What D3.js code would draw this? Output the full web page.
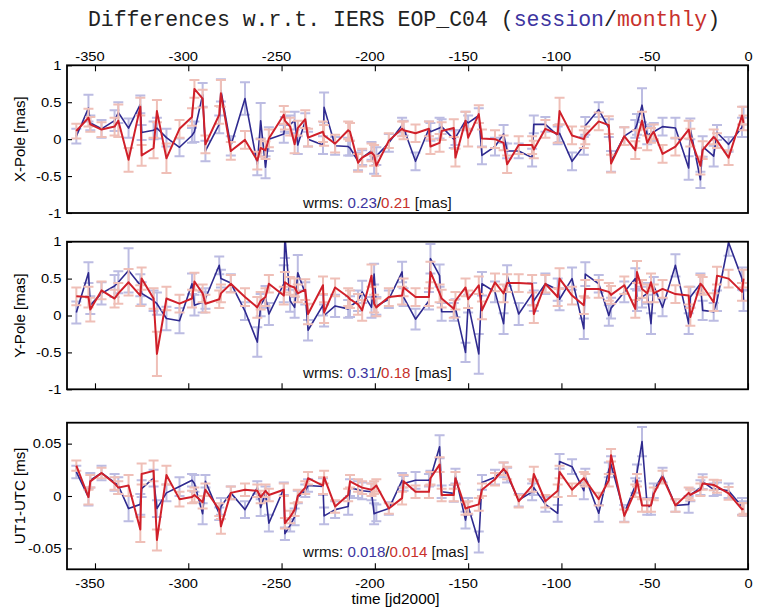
<!DOCTYPE html>
<html>
<head>
<meta charset="utf-8">
<script src="https://cdn.jsdelivr.net/npm/d3@7"></script>
<style>
  html, body { margin: 0; padding: 0; background: #ffffff; }
  svg { display: block; }
</style>
</head>
<body>
<svg id="chart" width="758" height="607"></svg>
<script>
// Session epochs, days relative to J2000
const epochs = [
  -360, -353.5, -352.5, -346.5, -339.5, -337.5, -332, -325.7, -325, -318.6,
  -316.8, -311.7, -304.7, -298, -296.7, -292.3, -290.8, -283.4, -282.5, -277.2,
  -269.6, -263, -261.2, -258.6, -256.8, -248.8, -248.2, -245.4, -243, -241.3,
  -237.3, -235.8, -227.8, -227.2, -221.3, -214.3, -213.3, -209, -206.8, -201.8,
  -200.4, -199.2, -192.5, -185.4, -184.6, -178.2, -171, -170.2, -165.3, -164.2,
  -157.7, -156.8, -151.4, -150, -144.3, -142.6, -135.6, -131, -129.1, -122.9,
  -115.7, -114.8, -108.6, -102, -101, -94.3, -88, -87.2, -80, -74.6,
  -73.4, -66.3, -60.4, -59.5, -56.8, -54, -52, -50.5, -45.8, -38.9,
  -31.8, -30.9, -25.5, -24.3, -18.4, -16.6, -10.4, -3.2, -2.4
];

// X-Pole differences [mas]
const xpoleSession = [
  0.04, 0.42, 0.22, 0.14, 0.25, 0.36, 0.15, 0.47, 0.09, 0.12,
  0.15, 0.02, -0.11, 0.05, 0.10, 0.60, -0.16, 0.20, 0.66, -0.09,
  0.55, -0.34, 0.25, -0.38, 0.00, 0.07, 0.20, 0.20, 0.25, -0.08,
  0.25, 0.00, -0.08, 0.43, -0.09, -0.10, -0.12, -0.30, -0.25, -0.16,
  -0.35, -0.23, -0.05, 0.19, 0.15, -0.30, 0.14, 0.10, 0.15, 0.17,
  0.00, 0.02, 0.25, 0.22, 0.32, -0.22, -0.10, 0.07, -0.16, -0.16,
  -0.25, 0.20, 0.20, 0.05, 0.08, -0.30, -0.09, 0.18, 0.40, 0.15,
  -0.30, 0.04, 0.14, 0.20, 0.46, 0.05, 0.08, 0.10, 0.17, 0.15,
  -0.39, 0.14, -0.55, -0.10, -0.23, 0.09, -0.07, 0.16, 0.32
];
const xpoleMonthly = [
  0.11, 0.29, 0.20, 0.13, 0.17, 0.25, -0.28, 0.44, -0.22, -0.12,
  0.38, -0.26, 0.14, 0.30, 0.68, 0.55, -0.07, 0.33, 0.62, -0.16,
  -0.01, -0.29, -0.12, -0.15, 0.01, 0.33, 0.25, 0.17, -0.07, 0.15,
  0.27, 0.02, 0.10, 0.05, -0.06, 0.12, 0.10, -0.32, -0.25, -0.18,
  -0.22, -0.36, -0.02, 0.14, 0.12, 0.08, 0.14, -0.10, -0.05, 0.11,
  0.15, -0.25, 0.25, 0.02, 0.34, 0.01, 0.00, -0.05, -0.34, -0.08,
  -0.08, -0.14, 0.14, 0.07, 0.38, 0.05, 0.00, 0.05, 0.24, 0.19,
  -0.33, 0.04, -0.15, 0.00, 0.25, -0.05, 0.05, 0.10, -0.20, -0.10,
  0.13, 0.02, -0.36, -0.15, 0.03, -0.02, -0.25, 0.32, 0.22
];
const xpoleSessionErr = [
  0.10, 0.18, 0.10, 0.12, 0.14, 0.14, 0.13, 0.12, 0.10, 0.12,
  0.14, 0.12, 0.12, 0.10, 0.14, 0.16, 0.14, 0.12, 0.15, 0.13,
  0.22, 0.15, 0.24, 0.15, 0.16, 0.12, 0.10, 0.12, 0.12, 0.12,
  0.10, 0.10, 0.12, 0.20, 0.12, 0.12, 0.10, 0.12, 0.10, 0.12,
  0.12, 0.12, 0.12, 0.10, 0.10, 0.12, 0.10, 0.12, 0.14, 0.10,
  0.12, 0.10, 0.12, 0.10, 0.10, 0.12, 0.12, 0.12, 0.10, 0.10,
  0.12, 0.12, 0.10, 0.12, 0.12, 0.12, 0.12, 0.12, 0.10, 0.12,
  0.14, 0.12, 0.12, 0.14, 0.23, 0.12, 0.12, 0.12, 0.12, 0.14,
  0.16, 0.14, 0.11, 0.14, 0.14, 0.10, 0.10, 0.13, 0.12
];
const xpoleMonthlyErr = [
  0.10, 0.12, 0.10, 0.10, 0.12, 0.22, 0.16, 0.12, 0.14, 0.14,
  0.15, 0.20, 0.12, 0.12, 0.12, 0.12, 0.12, 0.12, 0.18, 0.12,
  0.12, 0.12, 0.12, 0.12, 0.12, 0.12, 0.12, 0.12, 0.12, 0.10,
  0.12, 0.12, 0.14, 0.14, 0.12, 0.12, 0.12, 0.12, 0.12, 0.12,
  0.14, 0.14, 0.10, 0.10, 0.12, 0.12, 0.10, 0.10, 0.12, 0.12,
  0.12, 0.12, 0.12, 0.12, 0.12, 0.12, 0.12, 0.10, 0.12, 0.12,
  0.12, 0.12, 0.12, 0.12, 0.18, 0.12, 0.12, 0.12, 0.12, 0.12,
  0.12, 0.12, 0.12, 0.12, 0.12, 0.10, 0.10, 0.10, 0.12, 0.12,
  0.12, 0.12, 0.12, 0.12, 0.10, 0.10, 0.10, 0.12, 0.10
];

// Y-Pole differences [mas]
const ypoleSession = [
  0.04, 0.58, 0.14, 0.30, 0.40, 0.45, 0.61, 0.41, 0.30, 0.20,
  0.16, -0.04, -0.07, 0.43, 0.14, 0.18, 0.23, 0.68, 0.50, 0.44,
  0.06, -0.36, 0.14, 0.25, 0.02, 0.43, 1.08, 0.20, 0.11, 0.58,
  0.30, -0.20, 0.14, 0.00, 0.13, 0.09, 0.12, 0.20, 0.32, 0.11,
  0.56, 0.13, 0.22, 0.59, 0.25, -0.05, 0.20, 0.77, 0.54, 0.05,
  0.05, 0.10, -0.50, 0.16, -0.52, 0.43, 0.32, -0.11, 0.54, 0.02,
  0.29, 0.20, 0.43, 0.35, 0.22, 0.50, -0.18, 0.56, 0.43, 0.00,
  0.10, 0.32, 0.50, 0.20, 0.25, 0.30, -0.11, 0.40, 0.11, 0.68,
  -0.11, 0.25, 0.43, 0.07, 0.05, 0.20, 0.99, 0.50, 0.20
];
const ypoleMonthly = [
  0.26, 0.25, 0.08, 0.34, 0.23, 0.30, 0.45, 0.27, 0.50, 0.23,
  -0.52, 0.23, 0.16, 0.23, 0.46, 0.30, 0.16, 0.22, 0.30, 0.43,
  0.25, 0.11, 0.20, 0.25, 0.43, 0.27, 0.45, 0.40, 0.38, 0.30,
  0.35, 0.02, 0.41, 0.04, 0.38, 0.25, 0.22, 0.15, 0.07, 0.54,
  0.16, 0.11, 0.25, 0.27, 0.38, 0.25, 0.25, 0.59, 0.30, 0.23,
  0.09, 0.20, 0.38, 0.22, 0.41, 0.07, 0.45, 0.30, 0.44, 0.44,
  0.43, 0.02, 0.43, 0.25, 0.50, 0.27, 0.14, 0.36, 0.36, 0.32,
  0.28, 0.41, 0.09, 0.59, 0.36, 0.30, 0.45, 0.30, 0.36, 0.29,
  0.27, -0.02, 0.43, 0.40, 0.18, 0.54, 0.50, 0.32, 0.50
];
const ypoleSessionErr = [
  0.15, 0.14, 0.12, 0.15, 0.15, 0.15, 0.30, 0.15, 0.15, 0.14,
  0.15, 0.16, 0.17, 0.14, 0.14, 0.14, 0.14, 0.12, 0.12, 0.12,
  0.12, 0.20, 0.15, 0.15, 0.15, 0.25, 0.30, 0.15, 0.14, 0.24,
  0.15, 0.14, 0.14, 0.15, 0.15, 0.12, 0.14, 0.14, 0.15, 0.14,
  0.14, 0.12, 0.12, 0.14, 0.12, 0.14, 0.12, 0.20, 0.15, 0.12,
  0.12, 0.12, 0.13, 0.12, 0.27, 0.16, 0.14, 0.14, 0.14, 0.15,
  0.15, 0.14, 0.14, 0.15, 0.15, 0.15, 0.14, 0.16, 0.12, 0.14,
  0.14, 0.14, 0.14, 0.14, 0.14, 0.14, 0.14, 0.12, 0.12, 0.15,
  0.14, 0.14, 0.14, 0.13, 0.12, 0.14, 0.18, 0.15, 0.14
];
const ypoleMonthlyErr = [
  0.12, 0.14, 0.16, 0.12, 0.12, 0.14, 0.18, 0.14, 0.15, 0.14,
  0.30, 0.16, 0.12, 0.12, 0.12, 0.12, 0.12, 0.12, 0.12, 0.12,
  0.12, 0.14, 0.12, 0.12, 0.12, 0.12, 0.14, 0.12, 0.12, 0.12,
  0.14, 0.14, 0.12, 0.14, 0.12, 0.12, 0.12, 0.14, 0.14, 0.15,
  0.12, 0.12, 0.12, 0.12, 0.12, 0.12, 0.12, 0.14, 0.12, 0.12,
  0.12, 0.12, 0.12, 0.12, 0.12, 0.12, 0.12, 0.12, 0.12, 0.12,
  0.12, 0.12, 0.12, 0.12, 0.14, 0.12, 0.12, 0.12, 0.12, 0.12,
  0.12, 0.12, 0.12, 0.15, 0.12, 0.12, 0.12, 0.12, 0.12, 0.12,
  0.12, 0.12, 0.12, 0.12, 0.12, 0.12, 0.12, 0.12, 0.12
];

// UT1-UTC differences [ms]
const ut1Session = [
  0.023, -0.001, 0.015, 0.022, 0.013, 0.010, -0.012, -0.008, 0.007, 0.017,
  -0.012, 0.003, 0.009, 0.015, 0.012, -0.017, 0.014, -0.017, -0.010, 0.003,
  -0.013, 0.008, -0.011, 0.003, -0.026, 0.007, -0.036, -0.028, -0.020, -0.001,
  0.005, 0.010, 0.009, -0.019, -0.013, -0.010, 0.008, 0.006, 0.005, 0.004,
  -0.017, -0.016, -0.012, 0.015, 0.012, 0.015, 0.015, 0.017, 0.047, 0.004,
  0.0025, 0.019, -0.023, -0.010, -0.044, 0.013, 0.018, 0.025, 0.020, -0.004,
  0.004, 0.008, -0.008, -0.0165, 0.033, 0.028, 0.005, 0.018, -0.0165, 0.025,
  0.030, -0.0165, 0.010, 0.022, 0.052, -0.010, -0.010, 0.005, 0.020, -0.009,
  -0.008, 0.001, 0.008, 0.0137, 0.006, 0.007, 0.005, -0.010, -0.012
];
const ut1Monthly = [
  0.029, -0.001, 0.014, 0.022, 0.012, 0.008, 0.010, -0.032, 0.021, 0.024,
  -0.042, 0.020, -0.003, -0.001, 0.001, -0.006, 0.006, -0.013, -0.029, 0.003,
  0.006, 0.005, -0.001, 0.005, 0.001, 0.006, -0.026, -0.020, -0.013, 0.000,
  0.008, 0.017, 0.010, 0.018, -0.010, 0.001, 0.014, 0.010, 0.008, 0.006,
  0.008, 0.010, -0.012, -0.002, 0.014, 0.004, 0.004, 0.017, 0.030, 0.001,
  0.001, 0.017, -0.012, -0.011, -0.008, 0.006, 0.016, 0.026, 0.022, -0.005,
  0.010, 0.021, -0.005, 0.005, 0.023, 0.006, 0.017, 0.015, -0.003, 0.015,
  0.039, -0.019, 0.005, 0.015, -0.009, -0.009, -0.009, 0.002, 0.018, -0.009,
  0.003, 0.001, 0.006, 0.012, 0.0105, 0.009, 0.0025, -0.0127, -0.012
];
const ut1SessionErr = [
  0.006, 0.008, 0.007, 0.007, 0.008, 0.008, 0.012, 0.010, 0.008, 0.008,
  0.008, 0.008, 0.009, 0.006, 0.008, 0.010, 0.006, 0.006, 0.008, 0.006,
  0.008, 0.006, 0.008, 0.006, 0.008, 0.006, 0.006, 0.006, 0.008, 0.006,
  0.006, 0.006, 0.008, 0.008, 0.008, 0.008, 0.008, 0.008, 0.008, 0.008,
  0.010, 0.008, 0.006, 0.007, 0.007, 0.008, 0.006, 0.007, 0.011, 0.006,
  0.008, 0.007, 0.008, 0.008, 0.010, 0.007, 0.007, 0.007, 0.007, 0.006,
  0.008, 0.007, 0.007, 0.008, 0.007, 0.007, 0.008, 0.008, 0.008, 0.007,
  0.008, 0.008, 0.007, 0.008, 0.014, 0.008, 0.008, 0.007, 0.007, 0.006,
  0.008, 0.006, 0.007, 0.007, 0.006, 0.006, 0.007, 0.008, 0.007
];
const ut1MonthlyErr = [
  0.005, 0.007, 0.006, 0.005, 0.006, 0.006, 0.010, 0.012, 0.010, 0.010,
  0.010, 0.009, 0.007, 0.006, 0.007, 0.006, 0.006, 0.006, 0.007, 0.006,
  0.006, 0.006, 0.006, 0.006, 0.006, 0.006, 0.005, 0.006, 0.006, 0.006,
  0.006, 0.006, 0.008, 0.006, 0.006, 0.006, 0.006, 0.006, 0.006, 0.006,
  0.006, 0.006, 0.005, 0.006, 0.006, 0.006, 0.006, 0.006, 0.007, 0.006,
  0.006, 0.006, 0.006, 0.006, 0.006, 0.006, 0.006, 0.006, 0.006, 0.006,
  0.006, 0.007, 0.006, 0.006, 0.006, 0.006, 0.006, 0.006, 0.006, 0.006,
  0.006, 0.006, 0.006, 0.006, 0.006, 0.006, 0.006, 0.006, 0.006, 0.006,
  0.005, 0.005, 0.006, 0.006, 0.005, 0.006, 0.006, 0.006, 0.005
];

// Axis ticks and annotations
const timeTicks = [-350, -300, -250, -200, -150, -100, -50, 0];
const poleTicks = [-1, -0.5, 0, 0.5, 1];
const ut1Ticks = [-0.05, 0, 0.05];
const panelLabels = ["X-Pole [mas]", "Y-Pole [mas]", "UT1-UTC [ms]"];
const wrmsSession = ["0.23", "0.31", "0.018"];
const wrmsMonthly = ["0.21", "0.18", "0.014"];

// ---- drawing ----
const SANS = "'Liberation Sans', Arial, Helvetica, sans-serif";
const SX = 1.13; // horizontal stretch of sans-serif labels
const C = {
  session: "#2f2a8f",
  monthly: "#d0202a",
  sessionErr: "#bcbce2",
  monthlyErr: "#efbfb7",
  sessionText: "#3d34a0",
  monthlyText: "#c8312c"
};

const svg = d3.select("#chart");
const x = d3.scaleLinear().domain([-365, 0]).range([67, 748]);

const panels = [
  { top: 65.3, bottom: 213, domain: [-1, 1], ticks: poleTicks,
    session: xpoleSession, monthly: xpoleMonthly,
    sessionErr: xpoleSessionErr, monthlyErr: xpoleMonthlyErr,
    xAxis: "topLabels", wrmsY: 207.5 },
  { top: 241.7, bottom: 389.3, domain: [-1, 1], ticks: poleTicks,
    session: ypoleSession, monthly: ypoleMonthly,
    sessionErr: ypoleSessionErr, monthlyErr: ypoleMonthlyErr,
    xAxis: "bottomTicks", wrmsY: 377.5 },
  { top: 422.7, bottom: 569.3, domain: [-0.07, 0.07], ticks: ut1Ticks,
    session: ut1Session, monthly: ut1Monthly,
    sessionErr: ut1SessionErr, monthlyErr: ut1MonthlyErr,
    xAxis: "bottomLabels", wrmsY: 557 }
];

function styleAxis(g) {
  g.attr("font-family", SANS).attr("font-size", 13);
  g.select(".domain").remove();
  g.selectAll(".tick line").attr("stroke", "#000").attr("stroke-width", 1.1);
  g.selectAll(".tick text").attr("fill", "#000");
}

function errorBars(sel, y, vals, errs, color) {
  const rows = epochs.map((t, k) => ({ t, v: vals[k], e: errs[k] }));
  sel.append("g")
    .attr("stroke", color).attr("stroke-width", 2).attr("fill", "none")
    .selectAll("path").data(rows).join("path")
    .attr("d", o => {
      const px = x(o.t), y1 = y(o.v - o.e), y2 = y(o.v + o.e), w = 5;
      return `M${px},${y1}V${y2}M${px - w},${y1}H${px + w}M${px - w},${y2}H${px + w}`;
    });
}

function seriesLine(sel, y, vals, color, width) {
  const line = d3.line().x((t) => x(t)).y((t, k) => y(vals[k]));
  sel.append("path")
    .attr("d", line(epochs))
    .attr("fill", "none")
    .attr("stroke", color)
    .attr("stroke-width", width)
    .attr("stroke-linejoin", "round");
}

panels.forEach((p, i) => {
  const y = d3.scaleLinear().domain(p.domain).range([p.bottom, p.top]);
  const g = svg.append("g");

  g.append("clipPath").attr("id", "clip" + i)
    .append("rect")
    .attr("x", x.range()[0]).attr("y", p.top)
    .attr("width", x.range()[1] - x.range()[0])
    .attr("height", p.bottom - p.top);

  const plot = g.append("g").attr("clip-path", `url(#clip${i})`);
  errorBars(plot, y, p.session, p.sessionErr, C.sessionErr);
  seriesLine(plot, y, p.session, C.session, 1.6);
  errorBars(plot, y, p.monthly, p.monthlyErr, C.monthlyErr);
  seriesLine(plot, y, p.monthly, C.monthly, 2);

  // y axis (ticks inward)
  g.append("g")
    .attr("transform", `translate(${x.range()[0]},0)`)
    .call(d3.axisLeft(y).tickValues(p.ticks).tickSize(-5).tickPadding(5)
      .tickFormat(d => String(d)))
    .call(styleAxis)
    .call(a => a.selectAll(".tick text").attr("transform", `scale(${SX},1)`));

  // time axis
  if (p.xAxis === "topLabels") {
    g.append("g")
      .attr("transform", `translate(0,${p.top})`)
      .call(d3.axisTop(x).tickValues(timeTicks).tickSize(-6).tickPadding(4.3)
        .tickFormat(d => String(d)))
      .call(styleAxis)
      .call(a => a.selectAll(".tick text")
        .attr("x", d => d < 0 ? -5.5 / SX : 0)
        .attr("transform", `scale(${SX},1)`));
  } else {
    const ax = d3.axisBottom(x).tickValues(timeTicks).tickSize(-6).tickPadding(9.3)
      .tickFormat(p.xAxis === "bottomLabels" ? (d => String(d)) : () => "");
    g.append("g")
      .attr("transform", `translate(0,${p.bottom})`)
      .call(ax)
      .call(styleAxis)
      .call(a => a.selectAll(".tick text")
        .attr("x", d => d < 0 ? -5.5 / SX : 0)
        .attr("transform", `scale(${SX},1)`));
  }

  // frame
  g.append("rect")
    .attr("x", x.range()[0]).attr("y", p.top)
    .attr("width", x.range()[1] - x.range()[0])
    .attr("height", p.bottom - p.top)
    .attr("fill", "none").attr("stroke", "#000").attr("stroke-width", 1.8);

  // y label
  g.append("text")
    .attr("transform", `translate(25,${(p.top + p.bottom) / 2}) rotate(-90)`)
    .attr("text-anchor", "middle")
    .attr("font-family", SANS).attr("font-size", 15)
    .attr("fill", "#000")
    .text(panelLabels[i]);

  // wrms annotation
  const w = g.append("text")
    .attr("transform", `translate(303,${p.wrmsY}) scale(1.08,1)`)
    .attr("font-family", SANS).attr("font-size", 14)
    .attr("fill", "#111");
  w.append("tspan").text("wrms: ");
  w.append("tspan").attr("fill", C.sessionText).text(wrmsSession[i]);
  w.append("tspan").text("/");
  w.append("tspan").attr("fill", C.monthlyText).text(wrmsMonthly[i]);
  w.append("tspan").text(" [mas]");
});

// x axis label
svg.append("text")
  .attr("transform", "translate(395.5,604.3) scale(1.1,1)")
  .attr("text-anchor", "middle")
  .attr("font-family", SANS).attr("font-size", 14)
  .attr("fill", "#000")
  .text("time [jd2000]");

// title
const title = svg.append("text")
  .attr("x", 404).attr("y", 26)
  .attr("text-anchor", "middle")
  .attr("font-family", "'Liberation Mono', 'Courier New', monospace")
  .attr("font-size", 21.5)
  .attr("fill", "#222");
title.append("tspan").text("Differences w.r.t. IERS EOP_C04 (");
title.append("tspan").attr("fill", C.sessionText).text("session");
title.append("tspan").text("/");
title.append("tspan").attr("fill", C.monthlyText).text("monthly");
title.append("tspan").text(")");
</script>
</body>
</html>
